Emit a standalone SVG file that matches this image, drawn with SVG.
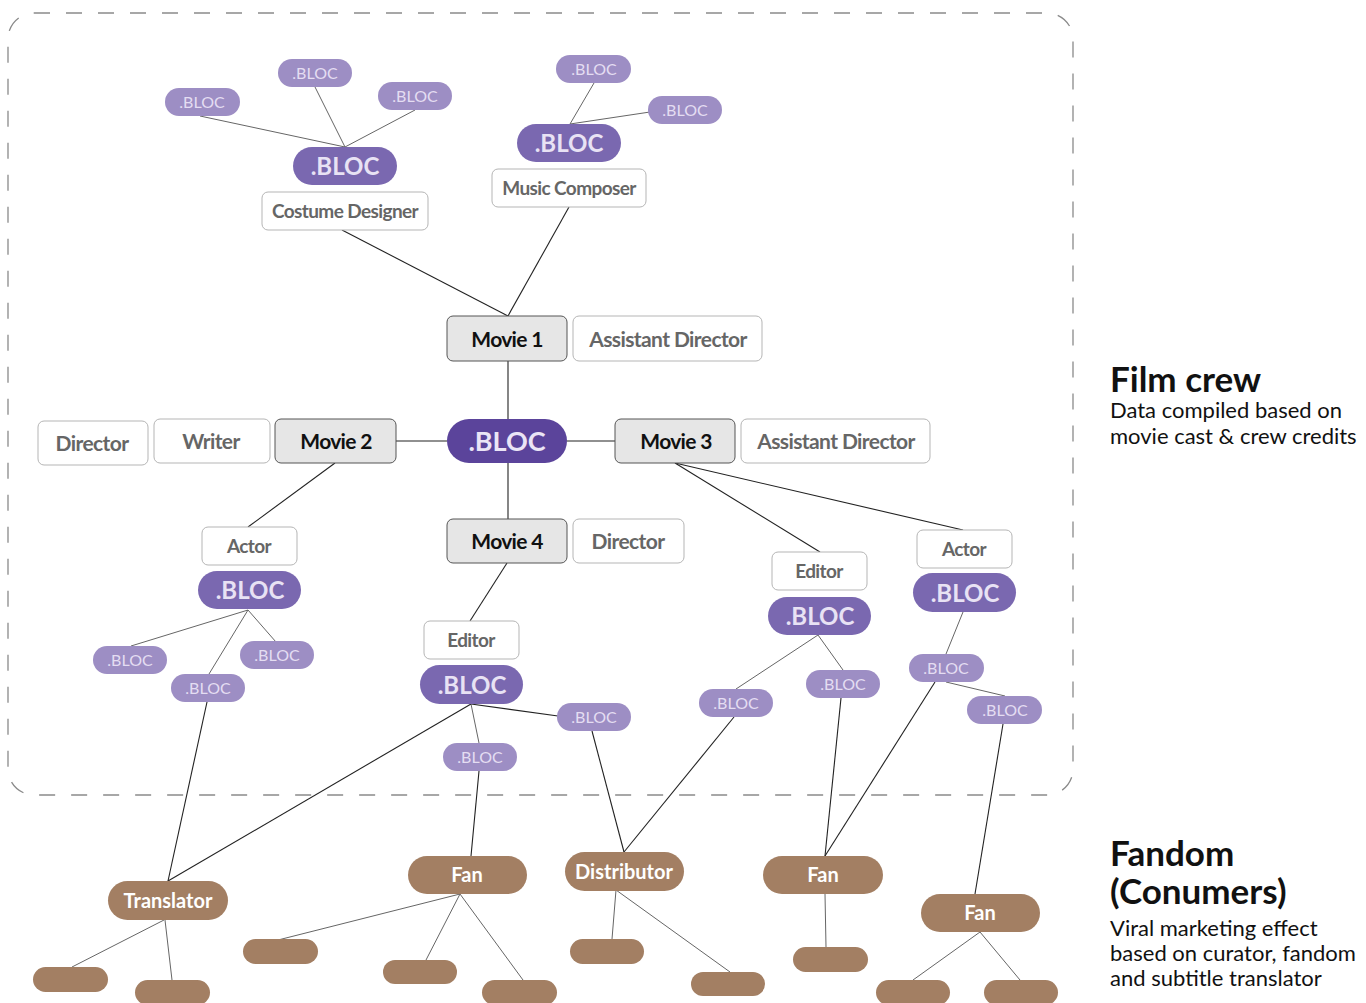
<svg xmlns="http://www.w3.org/2000/svg" width="1366" height="1003" viewBox="0 0 1366 1003">
<style>
text{font-family:Lato,"Noto Sans","Liberation Sans",sans-serif;text-anchor:middle;dominant-baseline:central}
.frame{fill:none;stroke:#8a8a8a;stroke-width:1.3;stroke-dasharray:16 16}
.ln{stroke:#222;stroke-width:1.1;fill:none}
.lg{stroke:#666;stroke-width:1;fill:none}
.s rect{fill:#9d8ec4}
.s text{fill:#e4ddf2;font-size:16px}
.m rect{fill:#7a68b0}
.m text{fill:#e8e2f4;font-size:24px;font-weight:700}
.c rect{fill:#5b449b}
.c text{fill:#ebe5f6;font-size:27px;font-weight:700}
.w rect{fill:#fff;stroke:#b5b5b5;stroke-width:1}
.w text{fill:#666;font-size:19px;font-weight:700;letter-spacing:-0.6px}
.g rect{fill:#e6e6e6;stroke:#555;stroke-width:1}
.g text{fill:#111;font-size:21px;font-weight:700;letter-spacing:-0.7px}
.b rect{fill:#a37f63}
.b text{fill:#fff;font-size:20px;font-weight:700}
.h{font-size:35px;font-weight:700;fill:#111;text-anchor:start;dominant-baseline:alphabetic}
.p{font-size:22px;fill:#111;text-anchor:start;dominant-baseline:alphabetic}
</style>
<rect class="frame" x="8" y="13" width="1065" height="782" rx="26"/>
<g id="connectors">
<line class="lg" x1="200" y1="116" x2="345" y2="147"/>
<line class="lg" x1="315" y1="87" x2="345" y2="147"/>
<line class="lg" x1="415" y1="110" x2="345" y2="147"/>
<line class="ln" x1="342" y1="230" x2="508" y2="316"/>
<line class="lg" x1="594" y1="83" x2="570" y2="124"/>
<line class="lg" x1="650" y1="112" x2="570" y2="124"/>
<line class="ln" x1="569" y1="207" x2="508" y2="316"/>
<line class="ln" x1="508" y1="361" x2="508" y2="419"/>
<line class="ln" x1="396" y1="441" x2="447" y2="441"/>
<line class="ln" x1="567" y1="441" x2="615" y2="441"/>
<line class="ln" x1="508" y1="463" x2="508" y2="519"/>
<line class="ln" x1="335" y1="463" x2="248" y2="527"/>
<line class="lg" x1="248" y1="610" x2="131" y2="646"/>
<line class="lg" x1="248" y1="610" x2="209" y2="674"/>
<line class="lg" x1="248" y1="610" x2="276" y2="642"/>
<line class="ln" x1="207" y1="702" x2="168" y2="881"/>
<line class="ln" x1="507" y1="563" x2="470" y2="621"/>
<line class="ln" x1="471" y1="704" x2="558" y2="716"/>
<line class="lg" x1="471" y1="704" x2="479" y2="743"/>
<line class="ln" x1="471" y1="704" x2="168" y2="881"/>
<line class="ln" x1="479" y1="771" x2="471" y2="856"/>
<line class="ln" x1="592" y1="731" x2="624" y2="852"/>
<line class="ln" x1="675" y1="463" x2="820" y2="552"/>
<line class="ln" x1="675" y1="463" x2="963" y2="530"/>
<line class="lg" x1="818" y1="635" x2="736" y2="689"/>
<line class="lg" x1="818" y1="635" x2="843" y2="670"/>
<line class="ln" x1="734" y1="717" x2="624" y2="852"/>
<line class="ln" x1="841" y1="698" x2="825" y2="856"/>
<line class="lg" x1="963" y1="612" x2="946" y2="654"/>
<line class="lg" x1="946" y1="682" x2="1005" y2="696"/>
<line class="ln" x1="935" y1="682" x2="825" y2="856"/>
<line class="ln" x1="1003" y1="724" x2="975" y2="894"/>
<line class="lg" x1="164" y1="920" x2="72" y2="967"/>
<line class="lg" x1="165" y1="920" x2="172" y2="980"/>
<line class="lg" x1="460" y1="894" x2="278" y2="940"/>
<line class="lg" x1="460" y1="894" x2="426" y2="960"/>
<line class="lg" x1="460" y1="894" x2="523" y2="980"/>
<line class="lg" x1="616" y1="890" x2="612" y2="939"/>
<line class="lg" x1="616" y1="890" x2="730" y2="972"/>
<line class="lg" x1="825" y1="894" x2="826" y2="947"/>
<line class="lg" x1="980" y1="932" x2="913" y2="980"/>
<line class="lg" x1="980" y1="932" x2="1020" y2="980"/>
</g>
<g id="tl-s1" class="s"><rect x="165" y="88" width="75" height="28" rx="14"/><text x="202" y="101">.BLOC</text></g>
<g id="tl-s2" class="s"><rect x="278" y="59" width="74" height="28" rx="14"/><text x="315" y="72">.BLOC</text></g>
<g id="tl-s3" class="s"><rect x="378" y="82" width="74" height="28" rx="14"/><text x="415" y="95">.BLOC</text></g>
<g id="tl-m" class="m"><rect x="293" y="147" width="104" height="38" rx="19"/><text x="345" y="165">.BLOC</text></g>
<g id="costume" class="w"><rect x="262" y="192" width="166" height="38" rx="6"/><text x="345" y="210">Costume Designer</text></g>
<g id="tm-s1" class="s"><rect x="556" y="55" width="75" height="28" rx="14"/><text x="594" y="68">.BLOC</text></g>
<g id="tm-s2" class="s"><rect x="648" y="96" width="74" height="28" rx="14"/><text x="685" y="109">.BLOC</text></g>
<g id="tm-m" class="m"><rect x="517" y="124" width="104" height="38" rx="19"/><text x="569" y="142">.BLOC</text></g>
<g id="music" class="w"><rect x="492" y="169" width="154" height="38" rx="6"/><text x="569" y="187">Music Composer</text></g>
<g id="movie1" class="g"><rect x="447" y="316" width="120" height="45" rx="6"/><text x="507" y="338">Movie 1</text></g>
<g id="ad1" class="w"><rect x="573" y="316" width="189" height="45" rx="6"/><text x="668" y="338" style="font-size:21px">Assistant Director</text></g>
<g id="center" class="c"><rect x="447" y="419" width="120" height="44" rx="22"/><text x="507" y="440">.BLOC</text></g>
<g id="director1" class="w"><rect x="38" y="421" width="110" height="44" rx="6"/><text x="92" y="442" style="font-size:21px">Director</text></g>
<g id="writer" class="w"><rect x="154" y="419" width="116" height="44" rx="6"/><text x="211" y="440" style="font-size:21px">Writer</text></g>
<g id="movie2" class="g"><rect x="275" y="419" width="121" height="44" rx="6"/><text x="336" y="440">Movie 2</text></g>
<g id="movie3" class="g"><rect x="615" y="419" width="120" height="44" rx="6"/><text x="676" y="440">Movie 3</text></g>
<g id="ad2" class="w"><rect x="741" y="419" width="189" height="44" rx="6"/><text x="836" y="440" style="font-size:21px">Assistant Director</text></g>
<g id="movie4" class="g"><rect x="447" y="519" width="120" height="44" rx="6"/><text x="507" y="540">Movie 4</text></g>
<g id="director2" class="w"><rect x="573" y="519" width="111" height="44" rx="6"/><text x="628" y="540" style="font-size:21px">Director</text></g>
<g id="actor1" class="w"><rect x="202" y="527" width="95" height="38" rx="6"/><text x="249" y="545">Actor</text></g>
<g id="a1-m" class="m"><rect x="198" y="571" width="103" height="38" rx="19"/><text x="250" y="589">.BLOC</text></g>
<g id="a1-s1" class="s"><rect x="93" y="646" width="74" height="28" rx="14"/><text x="130" y="659">.BLOC</text></g>
<g id="a1-s2" class="s"><rect x="240" y="641" width="74" height="28" rx="14"/><text x="277" y="654">.BLOC</text></g>
<g id="a1-s3" class="s"><rect x="171" y="674" width="74" height="28" rx="14"/><text x="208" y="687">.BLOC</text></g>
<g id="editor1" class="w"><rect x="424" y="621" width="95" height="38" rx="6"/><text x="471" y="639">Editor</text></g>
<g id="e1-m" class="m"><rect x="420" y="665" width="103" height="39" rx="19.5"/><text x="472" y="684">.BLOC</text></g>
<g id="e1-s1" class="s"><rect x="557" y="703" width="74" height="28" rx="14"/><text x="594" y="716">.BLOC</text></g>
<g id="e1-s2" class="s"><rect x="443" y="743" width="74" height="28" rx="14"/><text x="480" y="756">.BLOC</text></g>
<g id="editor2" class="w"><rect x="772" y="552" width="95" height="38" rx="6"/><text x="819" y="570">Editor</text></g>
<g id="e2-m" class="m"><rect x="768" y="597" width="103" height="38" rx="19"/><text x="820" y="615">.BLOC</text></g>
<g id="e2-s1" class="s"><rect x="699" y="689" width="74" height="28" rx="14"/><text x="736" y="702">.BLOC</text></g>
<g id="e2-s2" class="s"><rect x="806" y="670" width="74" height="28" rx="14"/><text x="843" y="683">.BLOC</text></g>
<g id="actor2" class="w"><rect x="917" y="530" width="95" height="38" rx="6"/><text x="964" y="548">Actor</text></g>
<g id="a2-m" class="m"><rect x="913" y="573" width="103" height="39" rx="19.5"/><text x="965" y="592">.BLOC</text></g>
<g id="a2-s1" class="s"><rect x="909" y="654" width="75" height="28" rx="14"/><text x="946" y="667">.BLOC</text></g>
<g id="a2-s2" class="s"><rect x="967" y="696" width="75" height="28" rx="14"/><text x="1005" y="709">.BLOC</text></g>
<g id="translator" class="b"><rect x="108" y="881" width="120" height="39" rx="19.5"/><text x="168" y="900">Translator</text></g>
<g id="fan1" class="b"><rect x="408" y="856" width="119" height="38" rx="19"/><text x="467" y="874">Fan</text></g>
<g id="distributor" class="b"><rect x="565" y="852" width="119" height="39" rx="19.5"/><text x="624" y="871">Distributor</text></g>
<g id="fan2" class="b"><rect x="763" y="856" width="120" height="38" rx="19"/><text x="823" y="874">Fan</text></g>
<g id="fan3" class="b"><rect x="921" y="894" width="119" height="38" rx="19"/><text x="980" y="912">Fan</text></g>
<g id="t-c1" class="b"><rect x="33" y="967" width="75" height="25" rx="12.5"/></g>
<g id="t-c2" class="b"><rect x="135" y="980" width="75" height="25" rx="12.5"/></g>
<g id="f1-c1" class="b"><rect x="243" y="939" width="75" height="25" rx="12.5"/></g>
<g id="f1-c2" class="b"><rect x="383" y="960" width="74" height="24" rx="12"/></g>
<g id="f1-c3" class="b"><rect x="482" y="980" width="75" height="25" rx="12.5"/></g>
<g id="d-c1" class="b"><rect x="570" y="939" width="74" height="25" rx="12.5"/></g>
<g id="d-c2" class="b"><rect x="691" y="972" width="74" height="24" rx="12"/></g>
<g id="f2-c1" class="b"><rect x="793" y="947" width="75" height="25" rx="12.5"/></g>
<g id="f3-c1" class="b"><rect x="876" y="980" width="74" height="25" rx="12.5"/></g>
<g id="f3-c2" class="b"><rect x="984" y="980" width="74" height="25" rx="12.5"/></g>
<g id="legend">
<text class="h" x="1110" y="392">Film crew</text>
<text class="p" x="1110" y="418">Data compiled based on</text>
<text class="p" x="1110" y="444">movie cast &amp; crew credits</text>
<text class="h" x="1110" y="904"><tspan x="1110" y="866">Fandom</tspan><tspan x="1110" y="904">(Conumers)</tspan></text>
<text class="p" x="1110" y="936"><tspan x="1110" y="936">Viral marketing effect</tspan><tspan x="1110" y="961">based on curator, fandom</tspan><tspan x="1110" y="986">and subtitle translator</tspan></text>
</g>
</svg>
